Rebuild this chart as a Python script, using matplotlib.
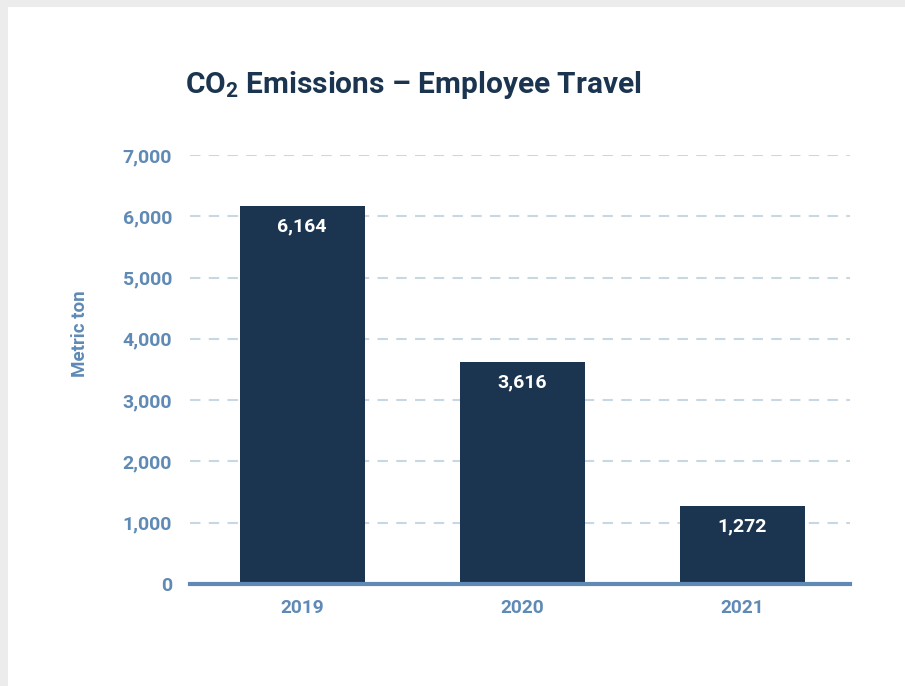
import matplotlib
matplotlib.use('Agg')
import matplotlib.pyplot as plt
from matplotlib.patches import Rectangle
from matplotlib.ticker import FuncFormatter

years = ['2019', '2020', '2021']
emissions = [6164, 3616, 1272]
y_ticks = [0, 1000, 2000, 3000, 4000, 5000, 6000, 7000]

NAVY = '#1b3550'
STEEL = '#5f8ab5'
GRID = '#c8d7e4'

plt.rcParams['font.family'] = ['Roboto', 'DejaVu Sans']
plt.rcParams['mathtext.fontset'] = 'custom'
plt.rcParams['mathtext.rm'] = 'Roboto:bold'
plt.rcParams['mathtext.it'] = 'Roboto:bold'
plt.rcParams['mathtext.bf'] = 'Roboto:bold'

fig = plt.figure(figsize=(9.05, 6.86), dpi=100)
fig.patch.set_facecolor('#ececec')
fig.patches.append(Rectangle((8 / 905, 0), 1, 1 - 7 / 686, transform=fig.transFigure,
                             facecolor='white', edgecolor='none', zorder=-5))

ax = fig.add_axes([190 / 905, 102 / 686, 660 / 905, 429 / 686])
ax.set_facecolor('none')

x = range(len(years))
bars = ax.bar(x, emissions, width=0.57, color=NAVY, zorder=3)

for b, v in zip(bars, emissions):
    ax.annotate(f'{v:,}', (b.get_x() + b.get_width() / 2, v), xytext=(0, -14.5),
                textcoords='offset points', ha='center', va='center',
                color='white', fontsize=14, fontweight='bold', zorder=4)

ax.set_xlim(-0.51, 2.49)
ax.set_ylim(0, 7000)
ax.set_yticks(y_ticks)
ax.yaxis.set_major_formatter(FuncFormatter(lambda v, p: f'{int(v):,}'))
ax.set_xticks(list(x))
ax.set_xticklabels(years)

ax.grid(axis='y', color=GRID, linestyle=(0, (5, 4)), linewidth=1.5, zorder=1)
ax.set_axisbelow(True)

for s in ['top', 'right', 'left']:
    ax.spines[s].set_visible(False)
ax.spines['bottom'].set_color(STEEL)
ax.spines['bottom'].set_linewidth(3)
ax.spines['bottom'].set_zorder(5)

ax.tick_params(axis='y', length=0, colors=STEEL, labelsize=14, pad=13)
ax.tick_params(axis='x', length=0, colors=STEEL, labelsize=13.8, pad=11)
for lab in ax.get_xticklabels() + ax.get_yticklabels():
    lab.set_fontweight('bold')

fig.text(80 / 905, 1 - 334 / 686, 'Metric ton', rotation=90, ha='center', va='center',
         color=STEEL, fontsize=13.5, fontweight='bold')

fig.text(185 / 905, 1 - 85 / 686, r'CO$_2$ Emissions – Employee Travel', ha='left', va='center',
         color=NAVY, fontsize=21.5, fontweight='bold')

fig.savefig('out.png', dpi=100, facecolor=fig.get_facecolor())
